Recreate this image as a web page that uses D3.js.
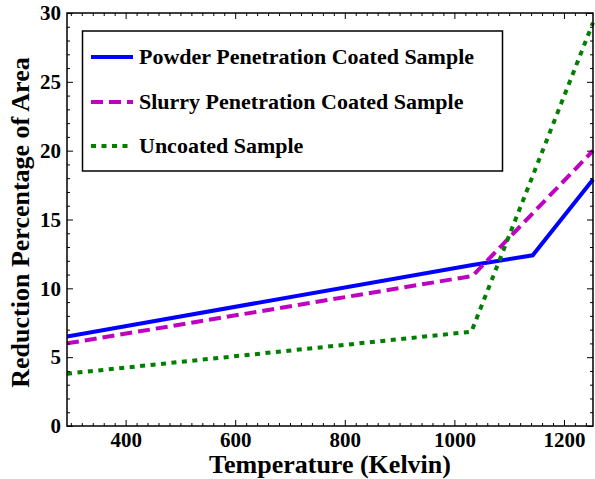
<!DOCTYPE html>
<html>
<head>
<meta charset="utf-8">
<script src="https://cdn.jsdelivr.net/npm/d3@7"></script>
<style>
  body { margin: 0; background: #fff; }
  text { font-family: "Liberation Serif", "Times New Roman", serif; font-weight: bold; }
</style>
</head>
<body>
<script>
// Temperatures (K) and reduction of area (%)
var tempPowder = [293, 1033, 1143, 1253];
var powder     = [6.5, 11.7, 12.4, 17.9];
var tempSlurry = [293, 1033, 1253];
var slurry     = [6.0, 10.9, 20.0];
var tempUncoat = [293, 1031, 1253];
var uncoated   = [3.8, 6.85, 29.3];

var seriesNames = ["Powder Penetration Coated Sample",
                   "Slurry Penetration Coated Sample",
                   "Uncoated Sample"];
var xTicks = [400, 600, 800, 1000, 1200];
var yTicks = [0, 5, 10, 15, 20, 25, 30];

var width = 595, height = 479;
var margin = {left: 67, right: 2, top: 13, bottom: 53};

var x = d3.scaleLinear().domain([293, 1253]).range([margin.left, width - margin.right]);
var y = d3.scaleLinear().domain([0, 30]).range([height - margin.bottom, margin.top]);

var svg = d3.select("body").append("svg")
    .attr("width", width)
    .attr("height", height);

svg.append("clipPath").attr("id", "clip")
  .append("rect")
    .attr("x", margin.left).attr("y", margin.top - 2)
    .attr("width", width - margin.left).attr("height", y(0) - margin.top + 2);

// series lines
var series = [
  {xs: tempPowder, ys: powder,   color: "#0000ff", dash: null},
  {xs: tempSlurry, ys: slurry,   color: "#bf00bf", dash: "12,6"},
  {xs: tempUncoat, ys: uncoated, color: "#007f00", dash: "5,5.5"}
];

var line = d3.line()
    .x(function(d) { return x(d[0]); })
    .y(function(d) { return y(d[1]); });

svg.append("g").attr("clip-path", "url(#clip)")
  .selectAll("path")
  .data(series)
  .enter()
  .append("path")
    .attr("d", function(s) { return line(d3.zip(s.xs, s.ys)); })
    .attr("fill", "none")
    .attr("stroke", function(s) { return s.color; })
    .attr("stroke-width", 4)
    .attr("stroke-dasharray", function(s) { return s.dash; });

// axes box with inward ticks on all four sides
var xMinor = d3.range(300, 1253, 20).filter(function(v) { return v % 200 !== 0; });
var yMinor = d3.range(0, 31, 1).filter(function(v) { return v % 5 !== 0; });

function drawAxis(axis, translate) {
  svg.append("g")
      .attr("transform", translate)
      .call(axis)
      .call(function(g) { g.select(".domain").remove(); })
      .call(function(g) { g.selectAll(".tick line").attr("stroke", "#000").attr("stroke-width", 1); })
      .call(function(g) {
        g.selectAll(".tick text")
          .attr("font-family", "Liberation Serif")
          .attr("font-weight", "bold")
          .attr("font-size", 21)
          .attr("fill", "#000");
      });
}

var yBottom = y(0), yTop = y(30), xLeft = x.range()[0], xRight = x.range()[1];
var fmt = d3.format("d");

drawAxis(d3.axisBottom(x).tickValues(xTicks).tickSize(-6).tickPadding(6).tickFormat(fmt), "translate(0," + yBottom + ")");
drawAxis(d3.axisBottom(x).tickValues(xMinor).tickSize(-3).tickFormat(""), "translate(0," + yBottom + ")");
drawAxis(d3.axisTop(x).tickValues(xTicks).tickSize(-6).tickFormat(""), "translate(0," + yTop + ")");
drawAxis(d3.axisTop(x).tickValues(xMinor).tickSize(-3).tickFormat(""), "translate(0," + yTop + ")");
drawAxis(d3.axisLeft(y).tickValues(yTicks).tickSize(-6).tickPadding(6).tickFormat(fmt), "translate(" + xLeft + ",0)");
drawAxis(d3.axisLeft(y).tickValues(yMinor).tickSize(-3).tickFormat(""), "translate(" + xLeft + ",0)");
drawAxis(d3.axisRight(y).tickValues(yTicks).tickSize(-6).tickFormat(""), "translate(" + xRight + ",0)");
drawAxis(d3.axisRight(y).tickValues(yMinor).tickSize(-3).tickFormat(""), "translate(" + xRight + ",0)");

svg.append("rect")
    .attr("x", xLeft).attr("y", yTop)
    .attr("width", xRight - xLeft).attr("height", yBottom - yTop)
    .attr("fill", "none")
    .attr("stroke", "#000")
    .attr("stroke-width", 1.5);

// axis titles
svg.append("text")
    .attr("x", (xLeft + xRight) / 2)
    .attr("y", 473)
    .attr("text-anchor", "middle")
    .attr("font-size", 26)
    .text("Temperature (Kelvin)");

svg.append("text")
    .attr("transform", "translate(29," + ((yTop + yBottom) / 2 + 3) + ") rotate(-90)")
    .attr("text-anchor", "middle")
    .attr("font-size", 26)
    .text("Reduction Percentage of Area");

// legend
var legend = svg.append("g");
legend.append("rect")
    .attr("x", 82.5).attr("y", 31)
    .attr("width", 420).attr("height", 140)
    .attr("fill", "#fff")
    .attr("stroke", "#000")
    .attr("stroke-width", 1.5);

var rowY = [57, 102, 146];
series.forEach(function(s, i) {
  legend.append("line")
      .attr("x1", 91).attr("x2", 133)
      .attr("y1", rowY[i]).attr("y2", rowY[i])
      .attr("stroke", s.color)
      .attr("stroke-width", 4)
      .attr("stroke-dasharray", s.dash);
  legend.append("text")
      .attr("x", 139)
      .attr("y", rowY[i] + 7)
      .attr("font-size", 22)
      .text(seriesNames[i]);
});
</script>
</body>
</html>
